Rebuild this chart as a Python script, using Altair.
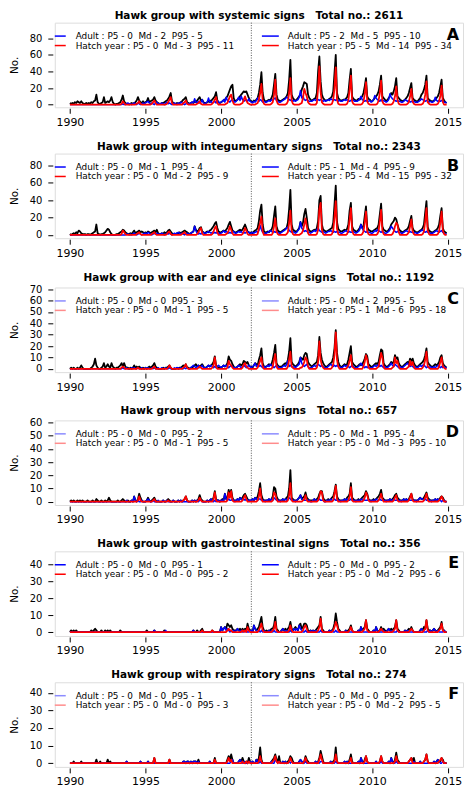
import altair as alt
import pandas as pd

YEARS = list(range(1990, 2015))
Z = [0, 0, 0, 0, 0, 0, 0, 0, 0, 0, 0, 0]

# ---------------- Panel A : systemic ----------------
A_TOTAL = [
    [2, 1, 2, 1, 3, 2, 4, 3, 2, 4, 2, 1],
    [1, 2, 1, 2, 1, 3, 2, 4, 5, 12, 3, 1],
    [1, 2, 3, 9, 2, 3, 4, 3, 5, 9, 3, 1],
    [0, 1, 1, 2, 3, 6, 11, 4, 2, 1, 1, 0],
    [1, 2, 1, 2, 3, 5, 9, 5, 3, 2, 4, 2],
    [3, 4, 8, 3, 4, 5, 6, 9, 5, 3, 2, 1],
    [1, 2, 2, 3, 4, 5, 7, 10, 14, 4, 2, 1],
    [1, 2, 1, 2, 3, 4, 6, 7, 9, 3, 2, 1],
    [2, 3, 2, 4, 3, 5, 7, 9, 5, 6, 3, 2],
    [2, 3, 4, 3, 5, 6, 8, 10, 15, 5, 3, 2],
    [3, 4, 5, 6, 8, 10, 14, 18, 22, 24, 8, 4],
    [5, 6, 8, 10, 12, 14, 16, 15, 16, 12, 8, 5],
    [4, 3, 5, 4, 6, 8, 14, 24, 39, 14, 6, 4],
    [4, 5, 6, 5, 8, 12, 24, 37, 12, 6, 5, 4],
    [5, 6, 7, 8, 10, 14, 30, 54, 12, 8, 6, 5],
    [6, 8, 10, 12, 18, 22, 27, 26, 25, 12, 8, 6],
    [5, 6, 7, 8, 14, 40, 58, 28, 12, 8, 6, 5],
    [5, 6, 7, 8, 10, 16, 38, 60, 14, 8, 6, 5],
    [5, 6, 6, 7, 9, 14, 30, 43, 10, 7, 6, 5],
    [5, 7, 6, 8, 10, 14, 22, 32, 10, 7, 6, 4],
    [4, 6, 8, 10, 12, 16, 24, 35, 10, 8, 6, 5],
    [5, 8, 10, 14, 12, 16, 22, 32, 10, 8, 6, 5],
    [4, 5, 6, 8, 10, 14, 20, 26, 8, 6, 5, 4],
    [4, 6, 8, 12, 14, 18, 24, 35, 8, 6, 5, 4],
    [4, 5, 6, 8, 10, 14, 22, 30, 8, 5, 3, 2],
]
A_HATCH = [
    Z, Z, Z,
    [0, 0, 0, 0, 0, 1, 4, 2, 0, 0, 0, 0],
    [0, 0, 0, 0, 0, 1, 2, 4, 1, 0, 0, 0],
    [0, 0, 0, 0, 0, 1, 3, 5, 2, 0, 0, 0],
    [0, 0, 0, 0, 0, 1, 3, 6, 9, 2, 0, 0],
    [0, 0, 0, 0, 0, 0, 2, 3, 5, 1, 0, 0],
    [0, 0, 0, 0, 0, 1, 2, 4, 1, 0, 0, 0],
    [0, 0, 0, 0, 0, 1, 3, 6, 9, 2, 0, 0],
    [0, 0, 0, 0, 1, 2, 6, 10, 12, 5, 1, 0],
    [0, 0, 0, 0, 1, 2, 6, 10, 5, 2, 1, 0],
    [0, 0, 0, 0, 1, 2, 6, 14, 25, 5, 1, 0],
    [0, 0, 0, 0, 1, 3, 12, 30, 5, 1, 0, 0],
    [0, 0, 0, 0, 1, 4, 14, 32, 5, 1, 0, 0],
    [0, 0, 0, 1, 2, 8, 19, 14, 10, 3, 1, 0],
    [0, 0, 0, 0, 2, 20, 46, 15, 3, 1, 0, 0],
    [0, 0, 0, 0, 1, 6, 20, 45, 6, 1, 0, 0],
    [0, 0, 0, 0, 1, 5, 18, 35, 4, 1, 0, 0],
    [0, 0, 0, 0, 1, 4, 12, 27, 4, 1, 0, 0],
    [0, 0, 0, 0, 1, 5, 14, 29, 4, 1, 0, 0],
    [0, 0, 0, 0, 1, 4, 10, 22, 6, 1, 0, 0],
    [0, 0, 0, 0, 1, 3, 10, 19, 4, 1, 0, 0],
    [0, 0, 0, 0, 1, 4, 12, 28, 3, 1, 0, 0],
    [0, 0, 0, 0, 1, 4, 10, 23, 3, 0, 0, 0],
]
A_ADULT = [
    Z, Z, Z,
    [0, 0, 0, 0, 0, 0, 1, 0, 0, 1, 2, 1],
    [1, 0, 1, 2, 1, 0, 2, 1, 0, 1, 2, 1],
    [2, 3, 4, 2, 1, 2, 1, 0, 2, 3, 1, 1],
    [1, 2, 1, 0, 2, 3, 1, 2, 1, 0, 1, 2],
    [1, 0, 2, 1, 3, 2, 1, 0, 1, 2, 1, 1],
    [2, 3, 2, 7, 3, 2, 4, 2, 3, 6, 2, 1],
    [2, 3, 8, 3, 4, 2, 3, 4, 2, 5, 3, 2],
    [3, 4, 6, 3, 9, 5, 4, 3, 5, 6, 4, 3],
    [4, 6, 9, 5, 10, 6, 4, 5, 6, 4, 7, 4],
    [3, 2, 4, 3, 5, 8, 4, 6, 5, 3, 4, 3],
    [3, 4, 5, 4, 6, 5, 7, 8, 5, 4, 3, 3],
    [4, 5, 6, 7, 9, 8, 6, 5, 6, 4, 5, 4],
    [5, 6, 9, 17, 8, 10, 6, 5, 6, 5, 4, 4],
    [4, 5, 6, 5, 7, 6, 5, 6, 5, 4, 5, 4],
    [5, 6, 5, 7, 6, 5, 6, 5, 6, 4, 5, 4],
    [4, 5, 6, 5, 6, 5, 4, 5, 6, 5, 4, 4],
    [4, 5, 7, 10, 6, 5, 4, 5, 4, 4, 5, 3],
    [4, 6, 11, 8, 6, 5, 4, 6, 4, 5, 4, 3],
    [4, 6, 13, 9, 7, 6, 5, 4, 5, 4, 4, 3],
    [3, 4, 6, 5, 4, 5, 3, 4, 3, 4, 3, 3],
    [3, 4, 5, 7, 6, 5, 4, 5, 4, 3, 4, 3],
    [3, 4, 9, 5, 4, 5, 4, 5, 4, 3, 3, 2],
]

# ---------------- Panel B : integumentary ----------------
B_TOTAL = [
    [1, 0, 1, 2, 1, 3, 2, 5, 4, 2, 1, 1],
    [1, 0, 1, 1, 0, 1, 2, 3, 4, 12, 2, 1],
    [0, 1, 1, 2, 3, 5, 7, 6, 3, 1, 0, 0],
    [0, 1, 1, 2, 3, 4, 6, 5, 3, 2, 1, 1],
    [2, 1, 3, 5, 2, 3, 4, 5, 3, 4, 3, 2],
    [3, 2, 4, 3, 2, 3, 4, 5, 3, 6, 2, 1],
    [1, 2, 1, 3, 2, 3, 5, 6, 4, 2, 1, 1],
    [1, 2, 2, 3, 2, 3, 4, 5, 4, 3, 2, 1],
    [2, 3, 4, 10, 6, 4, 5, 8, 9, 4, 3, 2],
    [3, 4, 3, 5, 6, 8, 10, 13, 15, 8, 4, 3],
    [3, 4, 5, 4, 6, 8, 12, 15, 10, 5, 4, 3],
    [3, 4, 5, 6, 5, 6, 9, 12, 8, 4, 3, 2],
    [3, 2, 4, 5, 6, 8, 16, 28, 35, 12, 4, 3],
    [3, 4, 3, 5, 6, 10, 22, 33, 10, 5, 4, 3],
    [4, 5, 6, 7, 8, 14, 30, 52, 12, 6, 5, 4],
    [4, 6, 8, 15, 10, 14, 24, 30, 20, 8, 5, 4],
    [4, 5, 6, 5, 8, 16, 40, 45, 12, 6, 5, 4],
    [4, 5, 6, 7, 8, 14, 35, 57, 15, 7, 5, 4],
    [4, 5, 6, 5, 7, 12, 28, 37, 10, 6, 5, 4],
    [4, 6, 8, 12, 8, 10, 22, 33, 9, 6, 5, 4],
    [4, 5, 6, 7, 8, 12, 24, 36, 10, 6, 5, 4],
    [4, 6, 8, 12, 14, 16, 20, 18, 12, 7, 5, 4],
    [3, 4, 5, 6, 7, 10, 16, 22, 8, 5, 4, 3],
    [3, 4, 5, 6, 8, 12, 26, 39, 9, 5, 4, 3],
    [3, 4, 5, 6, 8, 12, 22, 31, 8, 4, 3, 2],
]
B_HATCH = [
    Z, Z, Z,
    [0, 0, 0, 0, 0, 1, 5, 3, 1, 0, 0, 0],
    [0, 0, 0, 0, 0, 1, 2, 3, 1, 0, 0, 0],
    [0, 0, 0, 0, 0, 1, 2, 3, 1, 0, 0, 0],
    [0, 0, 0, 0, 0, 1, 3, 4, 1, 0, 0, 0],
    [0, 0, 0, 0, 0, 1, 2, 3, 1, 0, 0, 0],
    [0, 0, 0, 0, 0, 1, 3, 6, 8, 2, 0, 0],
    [0, 0, 0, 0, 0, 1, 4, 8, 10, 3, 0, 0],
    [0, 0, 0, 0, 1, 2, 5, 10, 6, 2, 0, 0],
    [0, 0, 0, 0, 0, 1, 4, 8, 5, 1, 0, 0],
    [0, 0, 0, 0, 0, 1, 8, 14, 21, 4, 0, 0],
    [0, 0, 0, 0, 0, 2, 10, 19, 4, 1, 0, 0],
    [0, 0, 0, 0, 1, 3, 14, 28, 5, 1, 0, 0],
    [0, 0, 0, 1, 2, 5, 12, 19, 10, 2, 0, 0],
    [0, 0, 0, 0, 1, 6, 30, 37, 6, 1, 0, 0],
    [0, 0, 0, 0, 1, 5, 20, 39, 7, 1, 0, 0],
    [0, 0, 0, 0, 1, 5, 18, 31, 5, 1, 0, 0],
    [0, 0, 0, 0, 1, 4, 14, 27, 4, 1, 0, 0],
    [0, 0, 0, 0, 1, 4, 16, 29, 5, 1, 0, 0],
    [0, 0, 0, 0, 1, 4, 10, 14, 12, 3, 0, 0],
    [0, 0, 0, 0, 1, 3, 10, 18, 4, 1, 0, 0],
    [0, 0, 0, 0, 1, 4, 16, 31, 5, 1, 0, 0],
    [0, 0, 0, 0, 1, 4, 14, 27, 5, 1, 0, 0],
]
B_ADULT = [
    Z, Z, Z,
    [0, 0, 0, 0, 0, 0, 0, 0, 0, 1, 1, 0],
    [1, 0, 1, 2, 1, 0, 1, 2, 1, 0, 1, 2],
    [2, 1, 3, 2, 1, 0, 1, 2, 1, 2, 1, 1],
    [1, 2, 1, 0, 1, 2, 1, 2, 1, 0, 1, 2],
    [1, 2, 3, 2, 1, 2, 1, 0, 1, 2, 1, 1],
    [2, 3, 4, 10, 5, 2, 1, 2, 1, 2, 3, 2],
    [2, 3, 4, 3, 2, 3, 2, 3, 2, 3, 2, 2],
    [2, 3, 5, 3, 4, 3, 2, 3, 2, 3, 4, 2],
    [2, 3, 4, 3, 4, 2, 3, 2, 3, 4, 3, 2],
    [2, 3, 2, 3, 4, 3, 5, 11, 6, 3, 2, 2],
    [2, 3, 4, 5, 4, 3, 4, 3, 4, 3, 2, 2],
    [3, 4, 5, 6, 8, 9, 5, 4, 3, 4, 3, 2],
    [3, 5, 7, 15, 8, 6, 4, 5, 4, 3, 3, 2],
    [3, 4, 5, 4, 6, 8, 5, 4, 3, 4, 3, 2],
    [3, 4, 4, 5, 4, 3, 4, 3, 4, 3, 3, 2],
    [2, 3, 4, 5, 4, 3, 4, 3, 3, 4, 3, 2],
    [3, 4, 6, 12, 8, 5, 4, 3, 4, 3, 3, 2],
    [2, 3, 5, 4, 6, 5, 4, 3, 4, 3, 2, 2],
    [3, 4, 6, 10, 8, 6, 4, 3, 4, 3, 3, 2],
    [2, 3, 4, 5, 4, 3, 4, 3, 3, 2, 3, 2],
    [2, 3, 4, 5, 6, 4, 3, 4, 3, 3, 2, 2],
    [2, 3, 4, 5, 4, 3, 4, 5, 3, 2, 1, 1],
]

# ---------------- Panel C : ear and eye ----------------
C_TOTAL = [
    [0, 1, 0, 1, 0, 0, 1, 0, 1, 3, 1, 0],
    [0, 0, 0, 0, 0, 1, 2, 4, 9, 3, 1, 0],
    [0, 1, 2, 5, 1, 2, 4, 2, 1, 5, 2, 1],
    [0, 1, 1, 2, 3, 5, 2, 5, 2, 1, 1, 0],
    [1, 0, 1, 3, 1, 2, 1, 2, 1, 0, 1, 0],
    [1, 0, 1, 2, 1, 2, 3, 5, 2, 1, 0, 0],
    [0, 0, 1, 0, 1, 1, 2, 3, 1, 0, 0, 0],
    [0, 1, 0, 1, 1, 2, 3, 2, 4, 1, 1, 0],
    [1, 1, 2, 3, 4, 2, 3, 2, 3, 4, 2, 1],
    [1, 2, 3, 2, 3, 4, 6, 11, 3, 2, 1, 1],
    [1, 2, 3, 2, 3, 5, 11, 8, 7, 4, 2, 1],
    [1, 2, 3, 4, 3, 4, 7, 6, 5, 6, 3, 2],
    [2, 1, 3, 5, 4, 3, 8, 12, 18, 5, 2, 2],
    [2, 3, 4, 3, 4, 8, 14, 21, 5, 3, 2, 2],
    [2, 3, 4, 5, 4, 8, 15, 27, 6, 4, 3, 2],
    [3, 4, 6, 10, 9, 8, 12, 14, 13, 6, 4, 3],
    [2, 3, 4, 5, 6, 12, 28, 14, 8, 5, 3, 2],
    [2, 3, 4, 5, 6, 10, 18, 34, 14, 6, 3, 2],
    [2, 3, 4, 3, 4, 8, 14, 20, 6, 4, 3, 2],
    [2, 3, 4, 3, 4, 6, 9, 13, 11, 4, 3, 2],
    [2, 3, 4, 5, 4, 6, 12, 17, 16, 5, 3, 2],
    [2, 3, 4, 6, 5, 6, 12, 9, 10, 5, 3, 2],
    [2, 3, 4, 5, 6, 5, 9, 7, 9, 5, 3, 2],
    [2, 3, 4, 5, 6, 8, 12, 18, 6, 4, 3, 2],
    [2, 3, 4, 3, 4, 6, 10, 12, 5, 3, 2, 1],
]
C_HATCH = [
    Z, Z, Z,
    [0, 0, 0, 0, 0, 1, 2, 1, 0, 0, 0, 0],
    [0, 0, 0, 0, 0, 0, 1, 0, 0, 0, 0, 0],
    [0, 0, 0, 0, 0, 0, 1, 2, 0, 0, 0, 0],
    [0, 0, 0, 0, 0, 0, 1, 3, 1, 0, 0, 0],
    [0, 0, 0, 0, 0, 0, 1, 2, 4, 1, 0, 0],
    [0, 0, 0, 0, 0, 0, 1, 2, 1, 0, 0, 0],
    [0, 0, 0, 0, 0, 1, 3, 10, 2, 0, 0, 0],
    [0, 0, 0, 0, 0, 1, 7, 4, 3, 1, 0, 0],
    [0, 0, 0, 0, 0, 1, 4, 5, 2, 1, 0, 0],
    [0, 0, 0, 0, 0, 1, 4, 7, 10, 2, 0, 0],
    [0, 0, 0, 0, 0, 2, 8, 13, 2, 0, 0, 0],
    [0, 0, 0, 0, 0, 2, 8, 15, 2, 1, 0, 0],
    [0, 0, 0, 1, 1, 3, 6, 10, 8, 2, 0, 0],
    [0, 0, 0, 0, 1, 6, 24, 8, 3, 1, 0, 0],
    [0, 0, 0, 0, 1, 4, 12, 32, 8, 2, 0, 0],
    [0, 0, 0, 0, 1, 3, 7, 12, 2, 1, 0, 0],
    [0, 0, 0, 0, 0, 2, 6, 12, 8, 1, 0, 0],
    [0, 0, 0, 0, 1, 2, 7, 14, 10, 2, 0, 0],
    [0, 0, 0, 0, 1, 2, 10, 5, 7, 2, 0, 0],
    [0, 0, 0, 0, 1, 2, 7, 3, 6, 2, 0, 0],
    [0, 0, 0, 0, 1, 3, 8, 15, 2, 1, 0, 0],
    [0, 0, 0, 0, 0, 2, 6, 10, 2, 1, 0, 0],
]
C_ADULT = [
    Z, Z, Z,
    [0, 0, 0, 0, 0, 0, 1, 0, 0, 1, 0, 0],
    [0, 1, 0, 1, 0, 0, 1, 0, 0, 1, 0, 0],
    [1, 0, 1, 0, 0, 1, 0, 1, 0, 0, 1, 0],
    [0, 1, 0, 0, 1, 0, 0, 1, 0, 0, 0, 1],
    [0, 1, 1, 0, 1, 0, 0, 1, 0, 1, 0, 0],
    [1, 2, 3, 2, 1, 2, 3, 1, 2, 3, 1, 1],
    [1, 2, 3, 2, 3, 2, 1, 2, 1, 2, 3, 2],
    [1, 2, 3, 2, 3, 2, 1, 2, 3, 2, 1, 1],
    [1, 2, 3, 2, 1, 2, 3, 2, 1, 2, 3, 2],
    [1, 2, 3, 5, 2, 3, 2, 3, 2, 1, 2, 1],
    [2, 3, 2, 4, 3, 2, 1, 2, 3, 2, 1, 1],
    [1, 2, 3, 2, 4, 7, 2, 3, 2, 1, 2, 1],
    [2, 3, 4, 10, 5, 3, 2, 3, 4, 2, 1, 1],
    [1, 2, 3, 2, 3, 4, 3, 2, 3, 2, 1, 1],
    [1, 2, 3, 4, 3, 2, 3, 2, 3, 2, 2, 1],
    [1, 2, 3, 2, 3, 2, 1, 2, 3, 2, 1, 1],
    [1, 2, 3, 5, 3, 2, 1, 2, 1, 2, 1, 1],
    [1, 2, 3, 2, 3, 4, 2, 3, 2, 1, 2, 1],
    [1, 2, 3, 5, 3, 2, 4, 3, 2, 1, 2, 1],
    [1, 2, 3, 4, 5, 3, 2, 3, 2, 1, 2, 1],
    [1, 2, 3, 2, 3, 4, 2, 1, 2, 1, 2, 1],
    [1, 2, 1, 2, 3, 2, 1, 2, 1, 2, 1, 1],
]

# ---------------- Panel D : nervous ----------------
D_TOTAL = [
    [0, 1, 0, 1, 0, 0, 1, 0, 1, 0, 1, 0],
    [0, 0, 1, 0, 0, 0, 1, 0, 0, 2, 1, 0],
    [0, 1, 0, 0, 1, 0, 1, 3, 1, 0, 0, 0],
    [0, 0, 1, 0, 0, 1, 2, 1, 0, 0, 1, 0],
    [0, 1, 0, 4, 1, 0, 2, 6, 3, 1, 0, 0],
    [0, 1, 3, 1, 0, 1, 2, 3, 1, 0, 0, 0],
    [0, 0, 1, 0, 0, 1, 2, 1, 0, 0, 1, 0],
    [0, 0, 1, 0, 1, 0, 1, 2, 4, 1, 0, 0],
    [0, 1, 0, 1, 0, 1, 2, 5, 2, 1, 0, 0],
    [0, 1, 0, 1, 2, 1, 3, 8, 2, 1, 1, 0],
    [1, 2, 1, 6, 2, 3, 9, 5, 9, 3, 1, 1],
    [1, 2, 1, 3, 2, 3, 5, 6, 4, 2, 1, 1],
    [1, 2, 1, 3, 2, 4, 8, 14, 5, 2, 1, 1],
    [1, 1, 2, 1, 2, 4, 11, 10, 4, 2, 1, 1],
    [1, 2, 1, 2, 3, 4, 10, 24, 3, 2, 1, 1],
    [1, 2, 3, 5, 2, 3, 4, 7, 3, 2, 1, 1],
    [1, 1, 2, 1, 2, 3, 6, 8, 8, 3, 1, 1],
    [1, 2, 1, 2, 3, 4, 8, 13, 4, 2, 1, 1],
    [1, 1, 2, 1, 3, 4, 6, 14, 3, 2, 1, 1],
    [1, 2, 1, 2, 3, 4, 5, 8, 6, 2, 1, 1],
    [1, 2, 1, 2, 3, 4, 6, 9, 3, 2, 1, 1],
    [1, 1, 2, 1, 2, 3, 5, 6, 3, 2, 1, 1],
    [1, 2, 1, 2, 1, 2, 4, 6, 2, 1, 1, 1],
    [1, 2, 3, 2, 2, 3, 5, 7, 3, 2, 1, 1],
    [1, 1, 2, 1, 2, 1, 3, 4, 3, 1, 0, 0],
]
D_HATCH = [
    Z, Z, Z, Z,
    [0, 0, 0, 0, 0, 0, 1, 4, 1, 0, 0, 0],
    [0, 0, 0, 0, 0, 0, 1, 2, 0, 0, 0, 0],
    [0, 0, 0, 0, 0, 0, 1, 0, 0, 0, 0, 0],
    [0, 0, 0, 0, 0, 0, 1, 2, 4, 1, 0, 0],
    [0, 0, 0, 0, 0, 0, 1, 3, 1, 0, 0, 0],
    [0, 0, 0, 0, 0, 0, 2, 7, 1, 0, 0, 0],
    [0, 0, 0, 0, 0, 1, 7, 3, 8, 1, 0, 0],
    [0, 0, 0, 0, 0, 1, 3, 5, 2, 0, 0, 0],
    [0, 0, 0, 0, 0, 1, 4, 10, 2, 0, 0, 0],
    [0, 0, 0, 0, 0, 1, 7, 6, 2, 0, 0, 0],
    [0, 0, 0, 0, 0, 1, 5, 14, 1, 0, 0, 0],
    [0, 0, 0, 0, 0, 1, 2, 5, 1, 0, 0, 0],
    [0, 0, 0, 0, 0, 1, 4, 8, 7, 1, 0, 0],
    [0, 0, 0, 0, 0, 1, 6, 12, 2, 0, 0, 0],
    [0, 0, 0, 0, 0, 1, 4, 11, 1, 0, 0, 0],
    [0, 0, 0, 0, 0, 1, 3, 7, 5, 1, 0, 0],
    [0, 0, 0, 0, 0, 1, 3, 6, 2, 0, 0, 0],
    [0, 0, 0, 0, 0, 1, 3, 5, 1, 0, 0, 0],
    [0, 0, 0, 0, 0, 1, 3, 6, 1, 0, 0, 0],
    [0, 0, 0, 0, 0, 1, 3, 6, 1, 0, 0, 0],
    [0, 0, 0, 0, 0, 1, 2, 4, 2, 0, 0, 0],
]
D_ADULT = [
    Z, Z, Z,
    [0, 0, 0, 0, 0, 0, 0, 0, 0, 1, 0, 0],
    [0, 1, 0, 4, 1, 0, 1, 0, 0, 1, 0, 0],
    [0, 1, 2, 1, 0, 0, 1, 0, 0, 0, 1, 0],
    [0, 0, 1, 0, 0, 1, 0, 0, 0, 0, 1, 0],
    [0, 0, 1, 0, 1, 0, 0, 0, 0, 0, 0, 0],
    [0, 1, 0, 1, 0, 1, 0, 1, 1, 0, 0, 0],
    [0, 1, 0, 1, 2, 1, 0, 1, 0, 1, 1, 0],
    [1, 1, 1, 6, 2, 1, 2, 1, 1, 2, 1, 0],
    [1, 2, 1, 3, 2, 1, 2, 1, 2, 1, 1, 1],
    [1, 2, 1, 3, 2, 1, 2, 2, 1, 1, 1, 0],
    [1, 1, 2, 1, 2, 1, 3, 2, 1, 1, 1, 0],
    [1, 2, 1, 2, 1, 2, 3, 2, 1, 1, 1, 0],
    [1, 2, 3, 5, 2, 1, 1, 1, 1, 1, 1, 0],
    [0, 1, 2, 1, 1, 1, 2, 1, 1, 1, 0, 0],
    [1, 1, 1, 2, 1, 1, 2, 1, 1, 1, 1, 0],
    [1, 1, 2, 1, 2, 1, 1, 2, 1, 1, 1, 0],
    [1, 1, 1, 2, 1, 2, 1, 1, 1, 1, 1, 0],
    [1, 1, 1, 2, 1, 1, 2, 1, 1, 1, 1, 0],
    [1, 1, 2, 1, 1, 2, 1, 1, 1, 1, 1, 0],
    [1, 2, 1, 2, 1, 1, 1, 1, 1, 1, 1, 0],
    [1, 2, 3, 2, 2, 1, 2, 1, 1, 1, 1, 0],
    [1, 1, 2, 1, 2, 1, 1, 0, 1, 1, 0, 0],
]

# ---------------- Panel E : gastrointestinal ----------------
E_TOTAL = [
    [0, 1, 0, 1, 0, 1, 0, 0, 0, 0, 0, 0],
    [0, 0, 0, 0, 0, 1, 0, 1, 2, 1, 0, 0],
    [0, 1, 0, 0, 1, 0, 1, 0, 1, 0, 0, 0],
    [0, 0, 0, 0, 1, 0, 0, 0, 0, 0, 0, 0],
    Z,
    [0, 1, 0, 0, 0, 0, 0, 1, 0, 0, 0, 0],
    [0, 0, 0, 1, 0, 0, 0, 0, 0, 0, 0, 0],
    Z,
    [0, 0, 1, 0, 0, 1, 0, 0, 1, 2, 0, 0],
    [0, 0, 0, 0, 0, 1, 0, 0, 0, 0, 0, 0],
    [3, 1, 2, 3, 2, 5, 4, 3, 4, 2, 1, 1],
    [1, 2, 1, 2, 1, 2, 1, 2, 1, 5, 2, 1],
    [1, 0, 4, 2, 1, 2, 3, 6, 9, 3, 1, 0],
    [1, 0, 1, 1, 2, 2, 4, 9, 2, 1, 0, 0],
    [1, 2, 1, 2, 1, 2, 3, 6, 2, 1, 2, 3],
    [2, 1, 4, 5, 2, 3, 5, 5, 4, 1, 0, 1],
    [0, 1, 0, 1, 2, 3, 4, 9, 2, 1, 0, 0],
    [0, 0, 1, 0, 1, 2, 5, 11, 6, 2, 1, 0],
    [0, 0, 0, 1, 0, 1, 2, 4, 1, 0, 0, 0],
    [0, 1, 0, 3, 1, 2, 3, 7, 2, 1, 0, 0],
    [0, 1, 0, 3, 1, 0, 1, 3, 1, 2, 1, 0],
    [1, 2, 1, 2, 1, 2, 3, 7, 2, 1, 0, 0],
    [0, 0, 1, 0, 1, 2, 1, 3, 1, 0, 0, 0],
    [0, 0, 1, 2, 1, 3, 2, 7, 2, 1, 1, 0],
    [1, 2, 1, 0, 1, 2, 3, 6, 1, 1, 0, 0],
]
E_HATCH = [
    Z, Z, Z, Z, Z, Z, Z, Z,
    [0, 0, 0, 0, 0, 0, 0, 0, 0, 1, 0, 0],
    [0, 0, 0, 0, 0, 1, 0, 0, 0, 0, 0, 0],
    [0, 0, 0, 0, 0, 1, 2, 1, 1, 0, 0, 0],
    [0, 0, 0, 0, 0, 1, 0, 1, 0, 3, 1, 0],
    [0, 0, 0, 0, 0, 0, 1, 3, 5, 1, 0, 0],
    [0, 0, 0, 0, 0, 1, 2, 6, 1, 0, 0, 0],
    [0, 0, 0, 0, 0, 0, 1, 4, 1, 0, 0, 0],
    [0, 0, 0, 0, 0, 1, 3, 4, 2, 0, 0, 0],
    [0, 0, 0, 0, 0, 1, 3, 8, 1, 0, 0, 0],
    [0, 0, 0, 0, 0, 1, 3, 6, 4, 1, 0, 0],
    [0, 0, 0, 0, 0, 0, 1, 3, 1, 0, 0, 0],
    [0, 0, 0, 0, 0, 1, 2, 7, 1, 0, 0, 0],
    [0, 0, 0, 0, 0, 0, 1, 2, 1, 0, 0, 0],
    [0, 0, 0, 0, 0, 1, 2, 7, 1, 0, 0, 0],
    [0, 0, 0, 0, 0, 0, 1, 2, 1, 0, 0, 0],
    [0, 0, 0, 0, 0, 1, 2, 7, 1, 0, 0, 0],
    [0, 0, 0, 0, 0, 1, 2, 5, 1, 0, 0, 0],
]
E_ADULT = [
    Z, Z, Z, Z, Z,
    [0, 0, 0, 0, 0, 0, 0, 1, 0, 0, 0, 0],
    [0, 0, 0, 0, 1, 0, 0, 0, 0, 0, 0, 0],
    Z,
    [0, 0, 1, 0, 0, 0, 0, 0, 0, 0, 0, 0],
    Z,
    [3, 1, 2, 3, 1, 2, 1, 0, 1, 0, 1, 0],
    [1, 2, 1, 0, 1, 0, 1, 0, 1, 0, 0, 1],
    [1, 0, 4, 2, 1, 0, 1, 0, 1, 0, 1, 0],
    [0, 0, 1, 0, 1, 0, 1, 0, 0, 0, 0, 0],
    [1, 2, 1, 0, 1, 0, 0, 1, 0, 1, 2, 1],
    [2, 1, 4, 2, 1, 0, 0, 1, 0, 0, 0, 1],
    [0, 1, 0, 1, 0, 0, 0, 1, 0, 0, 0, 0],
    [0, 0, 1, 0, 1, 0, 0, 1, 0, 0, 0, 0],
    [0, 0, 0, 1, 0, 0, 0, 0, 0, 0, 0, 0],
    [0, 1, 0, 3, 1, 0, 0, 0, 0, 0, 0, 0],
    [0, 1, 0, 3, 1, 0, 0, 0, 0, 1, 0, 0],
    [1, 2, 1, 0, 1, 0, 0, 0, 1, 0, 0, 0],
    [0, 0, 1, 0, 1, 0, 0, 0, 0, 0, 0, 0],
    [0, 0, 1, 2, 1, 0, 0, 0, 1, 0, 1, 0],
    [1, 2, 1, 0, 1, 0, 0, 0, 0, 1, 0, 0],
]

# ---------------- Panel F : respiratory ----------------
F_TOTAL = [
    [0, 0, 0, 1, 0, 0, 0, 0, 0, 1, 0, 0],
    [0, 0, 0, 0, 0, 0, 0, 0, 0, 2, 0, 0],
    [1, 0, 0, 0, 0, 0, 2, 0, 1, 0, 0, 0],
    [0, 0, 0, 0, 0, 0, 0, 0, 0, 1, 0, 0],
    [0, 0, 0, 0, 0, 0, 0, 0, 1, 0, 0, 0],
    [0, 0, 1, 0, 0, 0, 0, 3, 0, 0, 0, 0],
    [0, 0, 0, 0, 0, 0, 0, 2, 0, 0, 0, 0],
    [0, 0, 0, 0, 0, 0, 1, 1, 0, 1, 1, 0],
    [1, 0, 1, 1, 1, 0, 2, 0, 0, 0, 0, 0],
    [0, 0, 0, 1, 0, 0, 0, 3, 0, 0, 0, 0],
    [0, 0, 0, 0, 0, 2, 4, 2, 5, 2, 0, 0],
    [0, 0, 1, 2, 1, 3, 1, 0, 1, 0, 3, 1],
    [0, 1, 0, 0, 2, 1, 3, 9, 2, 0, 0, 0],
    [0, 0, 0, 0, 1, 2, 3, 5, 2, 1, 4, 0],
    [0, 1, 0, 1, 0, 1, 2, 4, 3, 1, 0, 0],
    [0, 0, 1, 2, 1, 0, 1, 4, 2, 1, 0, 0],
    [0, 0, 0, 1, 0, 1, 3, 7, 4, 1, 0, 0],
    [0, 0, 0, 1, 0, 1, 2, 9, 1, 0, 0, 0],
    [0, 0, 1, 0, 1, 0, 2, 5, 1, 0, 0, 0],
    [0, 1, 0, 3, 1, 0, 2, 4, 1, 0, 0, 0],
    [0, 0, 0, 1, 0, 0, 1, 4, 1, 0, 0, 0],
    [0, 1, 0, 3, 1, 0, 2, 6, 2, 1, 0, 0],
    [0, 0, 0, 0, 0, 1, 2, 3, 1, 3, 0, 0],
    [0, 0, 1, 0, 0, 1, 2, 5, 1, 0, 0, 0],
    [0, 1, 0, 1, 2, 1, 1, 3, 2, 0, 0, 0],
]
F_HATCH = [
    Z, Z, Z, Z, Z,
    [0, 0, 0, 0, 0, 0, 0, 3, 0, 0, 0, 0],
    [0, 0, 0, 0, 0, 0, 0, 2, 0, 0, 0, 0],
    Z, Z,
    [0, 0, 0, 0, 0, 0, 0, 2, 0, 0, 0, 0],
    [0, 0, 0, 0, 0, 1, 3, 1, 2, 0, 0, 0],
    [0, 0, 0, 0, 0, 1, 0, 0, 1, 0, 1, 0],
    [0, 0, 0, 0, 0, 0, 1, 4, 1, 0, 0, 0],
    [0, 0, 0, 0, 0, 1, 2, 4, 1, 0, 1, 0],
    [0, 0, 0, 0, 0, 0, 1, 3, 1, 0, 0, 0],
    [0, 0, 0, 0, 0, 0, 1, 3, 1, 0, 0, 0],
    [0, 0, 0, 0, 0, 0, 2, 5, 2, 0, 0, 0],
    [0, 0, 0, 0, 0, 0, 1, 5, 1, 0, 0, 0],
    [0, 0, 0, 0, 0, 0, 1, 3, 0, 0, 0, 0],
    [0, 0, 0, 0, 0, 0, 1, 4, 1, 0, 0, 0],
    [0, 0, 0, 0, 0, 0, 1, 4, 1, 0, 0, 0],
    [0, 0, 0, 0, 0, 0, 1, 4, 1, 0, 0, 0],
    [0, 0, 0, 0, 0, 1, 2, 3, 0, 0, 0, 0],
    [0, 0, 0, 0, 0, 1, 2, 5, 1, 0, 0, 0],
    [0, 0, 0, 0, 0, 1, 2, 3, 1, 0, 0, 0],
]
F_ADULT = [
    Z, Z, Z,
    [0, 0, 0, 0, 0, 0, 0, 0, 0, 1, 0, 0],
    [0, 0, 0, 0, 0, 0, 0, 0, 1, 0, 0, 0],
    [0, 0, 1, 0, 0, 0, 0, 0, 0, 0, 0, 0],
    Z,
    [0, 0, 0, 0, 0, 0, 1, 1, 0, 1, 1, 0],
    [1, 0, 1, 1, 1, 0, 1, 0, 0, 0, 0, 0],
    [0, 0, 0, 1, 0, 0, 0, 0, 0, 0, 0, 0],
    [0, 0, 0, 0, 0, 0, 0, 0, 1, 2, 0, 0],
    [0, 0, 1, 2, 1, 0, 1, 0, 0, 0, 1, 1],
    [0, 1, 0, 0, 2, 1, 0, 1, 0, 0, 0, 0],
    [0, 0, 0, 0, 1, 0, 0, 2, 1, 0, 1, 0],
    [0, 1, 0, 1, 0, 0, 1, 0, 1, 0, 0, 0],
    [0, 0, 1, 2, 1, 0, 0, 1, 0, 0, 0, 0],
    [0, 0, 0, 1, 0, 1, 0, 1, 1, 0, 0, 0],
    [0, 0, 0, 1, 0, 0, 0, 1, 0, 0, 0, 0],
    [0, 0, 1, 0, 1, 0, 0, 0, 0, 0, 0, 0],
    [0, 1, 0, 3, 1, 0, 0, 0, 0, 0, 0, 0],
    [0, 0, 0, 1, 0, 0, 0, 1, 0, 0, 0, 0],
    [0, 1, 0, 3, 1, 0, 0, 1, 0, 0, 0, 0],
    [0, 0, 0, 0, 0, 0, 0, 0, 0, 1, 0, 0],
    [0, 0, 1, 0, 0, 0, 0, 0, 0, 0, 0, 0],
    [0, 1, 0, 1, 2, 1, 0, 0, 1, 0, 0, 0],
]

NB = "\u00a0"
TITLES = [
    "Hawk group with systemic signs" + NB * 3 + "Total no.: 2611",
    "Hawk group with integumentary signs" + NB * 3 + "Total no.: 2343",
    "Hawk group with ear and eye clinical signs" + NB * 3 + "Total no.: 1192",
    "Hawk group with nervous signs" + NB * 3 + "Total no.: 657",
    "Hawk group with gastrointestinal signs" + NB * 3 + "Total no.: 356",
    "Hawk group with respiratory signs" + NB * 3 + "Total no.: 274",
]
LETTERS = ["A", "B", "C", "D", "E", "F"]
Y_DOMAINS = [[-3.2, 98.8], [-3.8, 93.9], [-2.9, 71.5], [-2.55, 61.7], [-2.3, 47.8], [-2.1, 46.0]]
Y_TICKS = [
    [0, 20, 40, 60, 80],
    [0, 20, 40, 60, 80],
    [0, 10, 20, 30, 40, 50, 60, 70],
    [0, 10, 20, 30, 40, 50, 60],
    [0, 10, 20, 30, 40],
    [0, 10, 20, 30, 40],
]
X_TICKS = [1990, 1995, 2000, 2005, 2010, 2015]
SPLIT_YEAR = 2002
# (adult, hatch) legend texts: before / after the split year
LEG_LEFT = [
    ("Adult : P5 - 0  Md - 2  P95 - 5", "Hatch year : P5 - 0  Md - 3  P95 - 11"),
    ("Adult : P5 - 0  Md - 1  P95 - 4", "Hatch year : P5 - 0  Md - 2  P95 - 9"),
    ("Adult : P5 - 0  Md - 0  P95 - 3", "Hatch year : P5 - 0  Md - 1  P95 - 5"),
    ("Adult : P5 - 0  Md - 0  P95 - 2", "Hatch year : P5 - 0  Md - 1  P95 - 5"),
    ("Adult : P5 - 0  Md - 0  P95 - 1", "Hatch year : P5 - 0  Md - 0  P95 - 2"),
    ("Adult : P5 - 0  Md - 0  P95 - 1", "Hatch year : P5 - 0  Md - 0  P95 - 3"),
]
LEG_RIGHT = [
    ("Adult : P5 - 2  Md - 5  P95 - 10", "Hatch year : P5 - 5  Md - 14  P95 - 34"),
    ("Adult : P5 - 1  Md - 4  P95 - 9", "Hatch year : P5 - 4  Md - 15  P95 - 32"),
    ("Adult : P5 - 0  Md - 2  P95 - 5", "Hatch year : P5 - 1  Md - 6  P95 - 18"),
    ("Adult : P5 - 0  Md - 1  P95 - 4", "Hatch year : P5 - 0  Md - 3  P95 - 10"),
    ("Adult : P5 - 0  Md - 0  P95 - 2", "Hatch year : P5 - 0  Md - 2  P95 - 6"),
    ("Adult : P5 - 0  Md - 0  P95 - 2", "Hatch year : P5 - 0  Md - 2  P95 - 5"),
]
LIGHT_LEGEND = [False, False, True, True, False, True]

SERIES = [
    (A_TOTAL, A_ADULT, A_HATCH),
    (B_TOTAL, B_ADULT, B_HATCH),
    (C_TOTAL, C_ADULT, C_HATCH),
    (D_TOTAL, D_ADULT, D_HATCH),
    (E_TOTAL, E_ADULT, E_HATCH),
    (F_TOTAL, F_ADULT, F_HATCH),
]

W, H = 410, 85
FONT = "DejaVu Sans"
t_values = [y + m / 12 for y in YEARS for m in range(12)]


def flat(rows):
    return [v for r in rows for v in r]


def panel(i):
    tot, adu, hat = SERIES[i]
    df = pd.DataFrame({"t": t_values, "total": flat(tot), "adult": flat(adu), "hatch": flat(hat)})
    xs = alt.Scale(domain=[1989, 2016], nice=False, zero=False)
    ys = alt.Scale(domain=Y_DOMAINS[i], nice=False, zero=False)
    xax = alt.Axis(values=X_TICKS, format="d", title=None, grid=False, domain=False,
                   tickSize=5, tickColor="black", labelFont=FONT, labelFontSize=11,
                   labelColor="black", labelPadding=3, offset=1, labelFlush=False)
    yax = alt.Axis(values=Y_TICKS[i], title="No.", grid=False, domain=False, tickSize=5,
                   tickColor="black", labelFont=FONT, labelFontSize=10, labelColor="black",
                   labelPadding=6, offset=2, labelOverlap=False, titleFont=FONT,
                   titleFontSize=10.5, titleFontWeight="normal", titleColor="black",
                   titlePadding=10)
    base = alt.Chart(df)
    layers = []
    split = alt.Chart(pd.DataFrame({"x": [SPLIT_YEAR]})).mark_rule(
        color="#555", strokeWidth=1, strokeDash=[1, 1.5]).encode(
        x=alt.X("x:Q", scale=xs, axis=xax))
    layers.append(split)
    for field, color, sw in [("total", "black", 1.8), ("adult", "#0000ff", 1.5), ("hatch", "#ff0000", 1.8)]:
        layers.append(base.mark_line(color=color, strokeWidth=sw, strokeJoin="round").encode(
            x=alt.X("t:Q", scale=xs, axis=xax),
            y=alt.Y(field + ":Q", scale=ys, axis=yax)))
    one = alt.Chart(pd.DataFrame({"d": [0]}))
    blue = "#8c8cff" if LIGHT_LEGEND[i] else "#0000ff"
    red = "#ff8c8c" if LIGHT_LEGEND[i] else "#ff0000"
    for (lx0, lx1, tx), texts in [((0, 11, 21), LEG_LEFT[i]), ((208, 225, 234), LEG_RIGHT[i])]:
        for row, (txt, col) in enumerate(zip(texts, [blue, red])):
            yy = 13.5 + row * 9.5
            layers.append(one.mark_rule(color=col, strokeWidth=1.5).encode(
                x=alt.value(lx0), x2=alt.value(lx1), y=alt.value(yy)))
            layers.append(one.mark_text(text=txt.replace("  ", NB + NB), align="left",
                                        baseline="middle", font=FONT, fontSize=8.9,
                                        color="black").encode(
                x=alt.value(tx), y=alt.value(yy)))
    layers.append(one.mark_text(text=LETTERS[i], align="right", baseline="alphabetic",
                                font=FONT, fontSize=16, fontWeight="bold",
                                color="black").encode(x=alt.value(W - 4), y=alt.value(17)))
    return alt.layer(*layers).properties(
        width=W, height=H,
        title=alt.TitleParams(TITLES[i], font=FONT, fontSize=10.5, fontWeight="bold",
                              color="black", offset=1, frame="group", anchor="middle"))


chart = alt.vconcat(*[panel(i) for i in range(6)], spacing=12.5).properties(
    padding={"left": 0, "top": 0, "right": 0, "bottom": 0}
).configure_view(stroke="#333", strokeWidth=1).configure(background="white")

chart.save("out.html", embed_options={"renderer": "svg", "actions": False})
